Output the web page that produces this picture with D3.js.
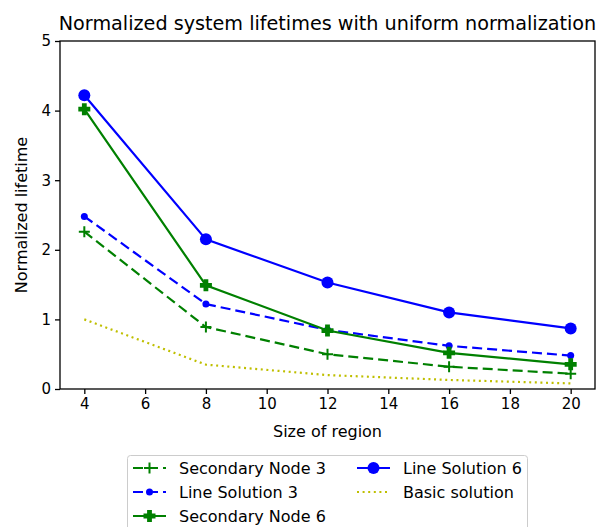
<!DOCTYPE html>
<html><head><meta charset="utf-8">
<script src="https://cdn.jsdelivr.net/npm/d3@7"></script>
<style>body{margin:0;background:#fff}svg{display:block;font-family:"DejaVu Sans",sans-serif}</style>
</head><body><svg id="c" width="602" height="527"></svg>
<script>
const regionSizes = [4, 8, 12, 16, 20];
const secondaryNode3 = [2.26, 0.89, 0.50, 0.32, 0.22];
const lineSolution3 = [2.48, 1.22, 0.85, 0.62, 0.48];
const secondaryNode6 = [4.02, 1.49, 0.84, 0.52, 0.355];
const lineSolution6 = [4.22, 2.15, 1.53, 1.10, 0.87];
const basicSolution = [1.0, 0.35, 0.20, 0.13, 0.08];
const xTicks = [4, 6, 8, 10, 12, 14, 16, 18, 20];
const yTicks = [0, 1, 2, 3, 4, 5];

const series = [
  {name: "Secondary Node 3", values: secondaryNode3, color: "#008000", dash: "10,5", marker: "plus"},
  {name: "Line Solution 3", values: lineSolution3, color: "#0000ff", dash: "10,5", marker: "dot"},
  {name: "Secondary Node 6", values: secondaryNode6, color: "#008000", dash: null, marker: "P"},
  {name: "Line Solution 6", values: lineSolution6, color: "#0000ff", dash: null, marker: "circle"},
  {name: "Basic solution", values: basicSolution, color: "#bfbf00", dash: "2,3.6", marker: null}
];

const svg = d3.select("#c");
const L = 60, R = 595, T = 41, B = 389;
const x = d3.scaleLinear().domain([3.2, 20.8]).range([L, R]);
const y = d3.scaleLinear().domain([0, 5]).range([B, T]);

function drawMarker(g, type, color, cx, cy) {
  if (type === "circle") {
    g.append("circle").attr("cx", cx).attr("cy", cy).attr("r", 6).attr("fill", color);
  } else if (type === "dot") {
    g.append("circle").attr("cx", cx).attr("cy", cy).attr("r", 3.5).attr("fill", color);
  } else if (type === "plus") {
    g.append("path").attr("d", `M${cx-5.5},${cy}H${cx+5.5}M${cx},${cy-5.5}V${cy+5.5}`)
      .attr("stroke", color).attr("stroke-width", 2).attr("fill", "none");
  } else if (type === "P") {
    const a = 2.4, b = 6;
    g.append("path").attr("d",
      `M${cx-a},${cy-b}H${cx+a}V${cy-a}H${cx+b}V${cy+a}H${cx+a}V${cy+b}H${cx-a}V${cy+a}H${cx-b}V${cy-a}H${cx-a}Z`)
      .attr("fill", color);
  }
}

// axes
const gx = svg.append("g").attr("transform", `translate(0,${B})`)
  .call(d3.axisBottom(x).tickValues(xTicks).tickSize(5).tickPadding(4).tickFormat(d3.format("d")));
const gy = svg.append("g").attr("transform", `translate(${L},0)`)
  .call(d3.axisLeft(y).tickValues(yTicks).tickSize(5).tickPadding(4).tickFormat(d3.format("d")));
[gx, gy].forEach(g => {
  g.select(".domain").remove();
  g.selectAll("text").attr("font-size", 15).attr("fill", "#000").attr("font-family", "DejaVu Sans");
  g.selectAll("line").attr("stroke", "#000").attr("stroke-width", 1.3);
});

const line = d3.line().x((d, i) => x(regionSizes[i])).y(d => y(d));
const plot = svg.append("g");
series.forEach(s => {
  plot.append("path").datum(s.values).attr("d", line).attr("fill", "none")
    .attr("stroke", s.color).attr("stroke-width", 2.2)
    .attr("stroke-dasharray", s.dash);
  if (s.marker) s.values.forEach((v, i) => drawMarker(plot, s.marker, s.color, x(regionSizes[i]), y(v)));
});

// frame
svg.append("rect").attr("x", L).attr("y", T).attr("width", R - L).attr("height", B - T)
  .attr("fill", "none").attr("stroke", "#000").attr("stroke-width", 1.3);

// title & labels
svg.append("text").attr("x", (L + R) / 2).attr("y", 30).attr("text-anchor", "middle")
  .attr("font-size", 19.2).text("Normalized system lifetimes with uniform normalization");
svg.append("text").attr("x", (L + R) / 2).attr("y", 437).attr("text-anchor", "middle")
  .attr("font-size", 16).text("Size of region");
svg.append("text").attr("transform", `translate(27,${(T + B) / 2}) rotate(-90)`).attr("text-anchor", "middle")
  .attr("font-size", 16).text("Normalized lifetime");

// legend
const lg = svg.append("g");
lg.append("rect").attr("x", 127.5).attr("y", 455.5).attr("width", 400).attr("height", 90)
  .attr("rx", 3).attr("fill", "#fff").attr("stroke", "#ccc").attr("stroke-width", 1);
const cols = [{hx: 133, tx: 179}, {hx: 357, tx: 403}];
series.forEach((s, i) => {
  const col = i < 3 ? cols[0] : cols[1];
  const row = i < 3 ? i : i - 3;
  const cy = 468 + row * 24;
  lg.append("path").attr("d", `M${col.hx},${cy}H${col.hx + 33}`).attr("stroke", s.color)
    .attr("stroke-width", 2.2).attr("fill", "none").attr("stroke-dasharray", s.dash);
  if (s.marker) drawMarker(lg, s.marker, s.color, col.hx + 16.5, cy);
  lg.append("text").attr("x", col.tx).attr("y", cy + 6).attr("font-size", 16).text(s.name);
});
</script></body></html>
